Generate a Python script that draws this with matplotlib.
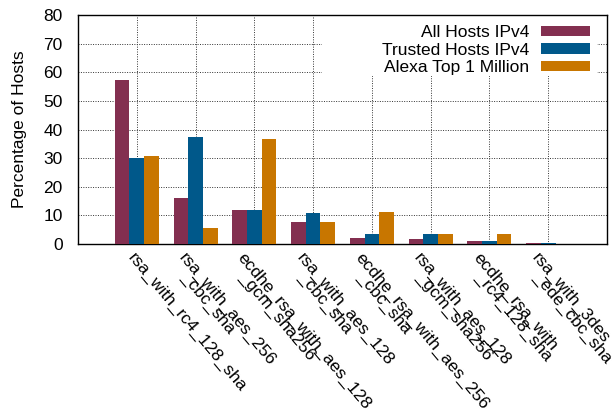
import matplotlib
matplotlib.use("Agg")
import matplotlib.pyplot as plt
import numpy as np
from matplotlib.patches import Rectangle

plt.rcParams['font.family'] = ['Liberation Sans', 'DejaVu Sans']

categories = [
    ["rsa_with_rc4_128_sha"],
    ["rsa_with_aes_256", "_cbc_sha"],
    ["ecdhe_rsa_with_aes_128", "_gcm_sha256"],
    ["rsa_with_aes_128", "_cbc_sha"],
    ["ecdhe_rsa_with_aes_256", "_cbc_sha"],
    ["rsa_with_aes_128", "_gcm_sha256"],
    ["ecdhe_rsa_with", "_rc4_128_sha"],
    ["rsa_with_3des", "_ede_cbc_sha"],
]
series_names = ["All Hosts IPv4", "Trusted Hosts IPv4", "Alexa Top 1 Million"]
all_hosts = [57.3, 16.1, 11.9, 7.7, 2.1, 1.7, 1.0, 0.35]
trusted_hosts = [30.0, 37.4, 11.9, 10.8, 3.5, 3.5, 1.0, 0.3]
alexa = [30.7, 5.6, 36.7, 7.7, 11.2, 3.5, 3.5, 0.1]
colors = ["#832f50", "#00588a", "#c87600"]
yticks = [0, 10, 20, 30, 40, 50, 60, 70, 80]

fs = 12.5
fig = plt.figure(figsize=(6.13, 4.16), dpi=100)
ax = fig.add_axes([78/613, (416-244)/416, (607-78)/613, (244-15)/416])

x = np.arange(len(categories))
w = 0.25
for i, (vals, name, c) in enumerate(zip([all_hosts, trusted_hosts, alexa], series_names, colors)):
    ax.bar(x + (i - 1) * w, vals, w, color=c, label=name, zorder=3)

ax.set_xlim(-1, 8)
ax.set_ylim(0, 80)
ax.set_yticks(yticks)
ax.set_yticklabels([str(v) for v in yticks], fontsize=fs)
ax.set_xticks(x)
ax.set_xticklabels([])
ax.tick_params(axis='x', length=0)
ax.tick_params(axis='y', direction='in', length=0, pad=11)
ax.grid(True, linestyle=(0, (1, 1.5)), color='#333333', linewidth=0.7, zorder=0)
ax.set_axisbelow(True)
for s in ax.spines.values():
    s.set_linewidth(1.0)
ax.set_ylabel("Percentage of Hosts", fontsize=fs, labelpad=12)

# white area behind legend (covers grid)
ax.add_patch(Rectangle(((322-78)/529, (244-76)/229), (597-322)/529, (76-15)/229,
                       transform=ax.transAxes, facecolor='white', edgecolor='none', zorder=1))

leg = ax.legend(loc='upper right', frameon=False, markerfirst=False, fontsize=fs,
                handlelength=2.85, handleheight=0.55, labelspacing=0.15,
                borderaxespad=0.0, borderpad=0.0,
                bbox_to_anchor=((590-78)/529, (244-25)/229),
                handletextpad=0.65)
for t in leg.get_texts():
    t.set_ha('right')

# rotated multi-line tick labels (gnuplot style)
for xi, lines in zip(x, categories):
    if len(lines) == 1:
        offs = [(0, -6)]
    else:
        offs = [(-8, -6), (-6, -25)]
    for line, (dx, dy) in zip(lines, offs):
        ax.annotate(line, xy=(xi, 0), xycoords=('data', 'axes fraction'),
                    xytext=(dx, dy), textcoords='offset pixels',
                    rotation=-50, rotation_mode='anchor', ha='left', va='top',
                    fontsize=fs, annotation_clip=False)

fig.savefig("out.png", dpi=100)
